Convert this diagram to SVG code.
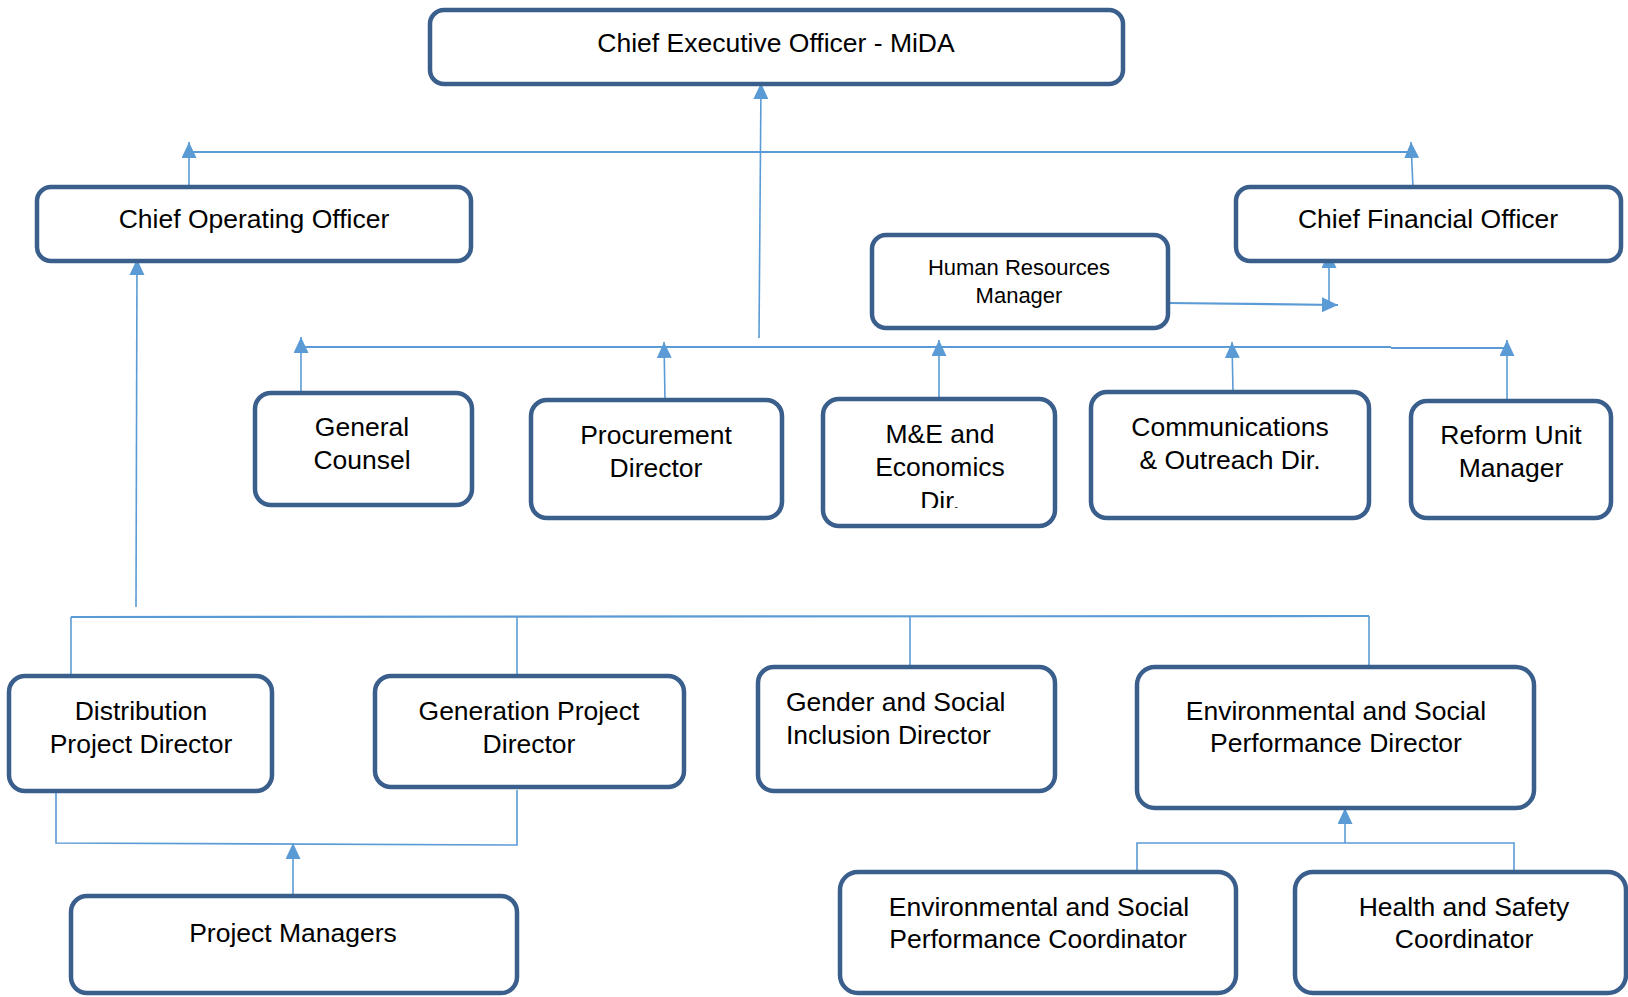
<svg xmlns="http://www.w3.org/2000/svg" width="1628" height="997" viewBox="0 0 1628 997">
<style>
.box{fill:#fff;stroke:#3B5F8D;stroke-width:4.5}
.t{font-family:"Liberation Sans",Arial,sans-serif;font-size:26.5px;fill:#000;text-anchor:middle}
.s{font-size:22px}
.c{stroke:#5B9BD5;stroke-width:1.6;fill:none}
.h{stroke:#5B9BD5;stroke-width:2.2;fill:none}
</style>
<defs>
<marker id="ar" markerUnits="userSpaceOnUse" markerWidth="17" markerHeight="17" refX="16" refY="7.5" orient="auto">
<path d="M0,0 L16,7.5 L0,15 z" fill="#5B9BD5"/>
</marker>
<clipPath id="meclip"><rect x="823" y="399" width="232" height="109"/></clipPath>
</defs>
<rect width="1628" height="997" fill="#fff"/>
<g id="connectors">
<line class="c" x1="759" y1="338" x2="761" y2="83" marker-end="url(#ar)"/>
<line class="h" x1="189" y1="152" x2="1409" y2="152"/>
<line class="c" x1="189" y1="187" x2="189" y2="142" marker-end="url(#ar)"/>
<line class="c" x1="1413" y1="188" x2="1411" y2="142" marker-end="url(#ar)"/>
<line class="c" x1="136" y1="607" x2="137" y2="259" marker-end="url(#ar)"/>
<line class="h" x1="301" y1="347" x2="1391" y2="347"/>
<line class="h" x1="1391" y1="348" x2="1507" y2="348"/>
<line class="c" x1="301" y1="393" x2="301" y2="337" marker-end="url(#ar)"/>
<line class="c" x1="665" y1="400" x2="664" y2="342" marker-end="url(#ar)"/>
<line class="c" x1="939" y1="399" x2="939" y2="340" marker-end="url(#ar)"/>
<line class="c" x1="1233" y1="392" x2="1232" y2="342" marker-end="url(#ar)"/>
<line class="c" x1="1507" y1="401" x2="1507" y2="340" marker-end="url(#ar)"/>
<line class="h" x1="1168" y1="303" x2="1338" y2="305" marker-end="url(#ar)"/>
<line class="c" x1="1329" y1="304" x2="1329" y2="252" marker-end="url(#ar)"/>
<line class="h" x1="71" y1="617" x2="1369" y2="616"/>
<line class="c" x1="71" y1="617" x2="71" y2="676"/>
<line class="c" x1="517" y1="617" x2="517" y2="676"/>
<line class="c" x1="910" y1="616" x2="910" y2="667"/>
<line class="c" x1="1369" y1="616" x2="1369" y2="667"/>
<polyline class="c" points="56,791 56,843 517,845 517,790"/>
<line class="c" x1="293" y1="896" x2="293" y2="843" marker-end="url(#ar)"/>
<polyline class="c" points="1137,872 1137,843 1514,843 1514,872"/>
<line class="c" x1="1345" y1="843" x2="1345" y2="808" marker-end="url(#ar)"/>
</g>
<g id="ceo"><rect class="box" x="430" y="10" width="693" height="74" rx="14"/><text class="t" x="776" y="52">Chief Executive Officer - MiDA</text></g>
<g id="coo"><rect class="box" x="37" y="187" width="434" height="74" rx="14"/><text class="t" x="254" y="228">Chief Operating Officer</text></g>
<g id="cfo"><rect class="box" x="1236" y="187" width="385" height="74" rx="14"/><text class="t" x="1428" y="228">Chief Financial Officer</text></g>
<g id="hr"><rect class="box" x="872" y="235" width="296" height="93" rx="14"/><text class="t s" x="1019" y="275">Human Resources</text><text class="t s" x="1019" y="303">Manager</text></g>
<g id="gc"><rect class="box" x="255" y="393" width="217" height="112" rx="16"/><text class="t" x="362" y="436">General</text><text class="t" x="362" y="469">Counsel</text></g>
<g id="proc"><rect class="box" x="531" y="400" width="251" height="118" rx="16"/><text class="t" x="656" y="444">Procurement</text><text class="t" x="656" y="477">Director</text></g>
<g id="me"><rect class="box" x="823" y="399" width="232" height="127" rx="16"/><g clip-path="url(#meclip)"><text class="t" x="940" y="443">M&amp;E and</text><text class="t" x="940" y="476">Economics</text><text class="t" x="940" y="510">Dir.</text></g></g>
<g id="comm"><rect class="box" x="1091" y="392" width="278" height="126" rx="16"/><text class="t" x="1230" y="436">Communications</text><text class="t" x="1230" y="469">&amp; Outreach Dir.</text></g>
<g id="reform"><rect class="box" x="1411" y="401" width="200" height="117" rx="16"/><text class="t" x="1511" y="444">Reform Unit</text><text class="t" x="1511" y="477">Manager</text></g>
<g id="dist"><rect class="box" x="9" y="676" width="263" height="115" rx="16"/><text class="t" x="141" y="720">Distribution</text><text class="t" x="141" y="753">Project Director</text></g>
<g id="gen"><rect class="box" x="375" y="676" width="309" height="111" rx="16"/><text class="t" x="529" y="720">Generation Project</text><text class="t" x="529" y="753">Director</text></g>
<g id="gender"><rect class="box" x="758" y="667" width="297" height="124" rx="16"/><text class="t" x="786" y="711" style="text-anchor:start">Gender and Social</text><text class="t" x="786" y="744" style="text-anchor:start">Inclusion Director</text></g>
<g id="espdir"><rect class="box" x="1137" y="667" width="397" height="141" rx="18"/><text class="t" x="1336" y="720">Environmental and Social</text><text class="t" x="1336" y="752">Performance Director</text></g>
<g id="pm"><rect class="box" x="71" y="896" width="446" height="97" rx="16"/><text class="t" x="293" y="942">Project Managers</text></g>
<g id="espcoord"><rect class="box" x="840" y="872" width="396" height="121" rx="18"/><text class="t" x="1039" y="916">Environmental and Social</text><text class="t" x="1038" y="948">Performance Coordinator</text></g>
<g id="hs"><rect class="box" x="1295" y="872" width="331" height="121" rx="18"/><text class="t" x="1464" y="916">Health and Safety</text><text class="t" x="1464" y="948">Coordinator</text></g>
</svg>
